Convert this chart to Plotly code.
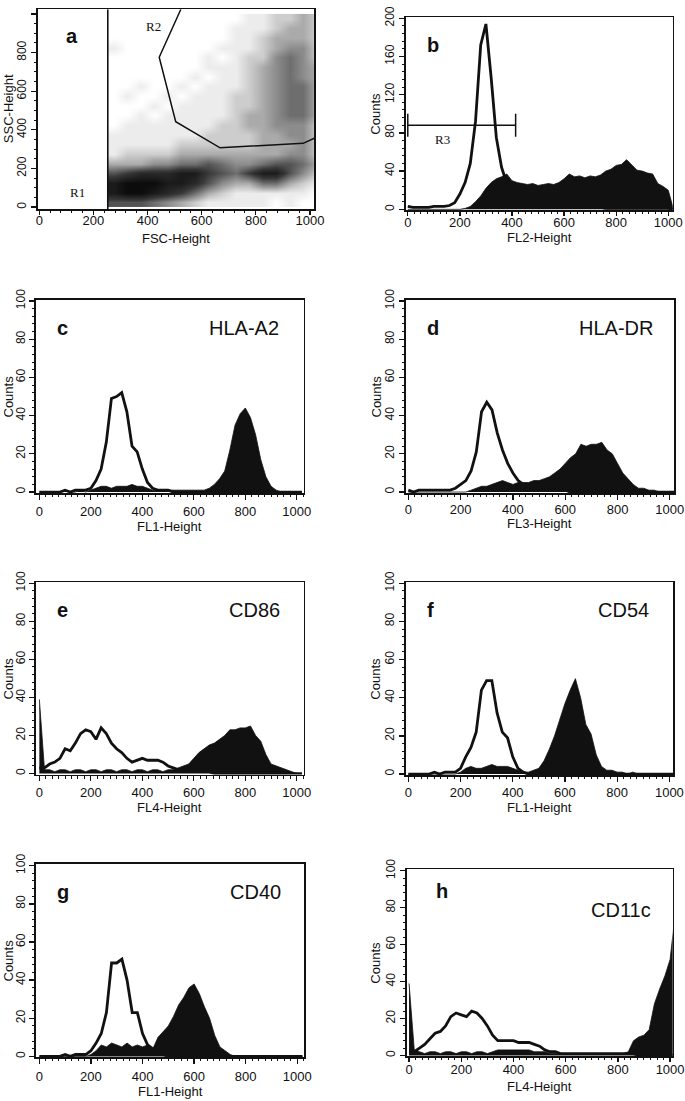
import plotly.graph_objects as go

# ---------------- data ----------------
# Histogram channel positions (FL / FSC units)
CHANNELS = list(range(0, 1021, 20))

B_OPEN = [3, 2, 2, 2, 2, 3, 3, 3, 4, 7,
          16, 28, 48, 92, 172, 194, 138, 75, 44, 27,
          18, 13, 9, 7, 6, 5, 4, 4, 3, 3,
          3, 2, 2, 2, 2, 2, 2, 2, 1, 1,
          1, 1, 1, 1, 1, 1, 1, 1, 1, 1,
          1, 0]
B_FILL = [0, 0, 0, 0, 0, 0, 0, 0, 0, 0,
          0, 1, 3, 8, 14, 22, 28, 32, 34, 37,
          30, 28, 27, 26, 27, 25, 26, 27, 26, 28,
          32, 37, 34, 35, 33, 35, 34, 36, 40, 42,
          46, 47, 52, 46, 41, 40, 38, 37, 27, 24,
          20, 0]

C_OPEN = [0, 0, 0, 0, 0, 1, 0, 1, 1, 1,
          2, 6, 12, 26, 49, 50, 52, 42, 24, 21,
          12, 5, 2, 1, 1, 1, 0, 0, 0, 0,
          0, 0, 0, 0, 0, 0, 0, 0, 0, 0,
          0, 0, 0, 0, 0, 0, 0, 0, 0, 0,
          0, 0]
C_FILL = [0, 0, 0, 0, 0, 1, 0, 0, 1, 0,
          1, 2, 3, 3, 2, 3, 3, 3, 4, 3,
          3, 2, 1, 1, 1, 1, 1, 1, 1, 1,
          1, 1, 1, 2, 4, 7, 11, 22, 35, 41,
          44, 39, 30, 17, 8, 3, 1, 0, 0, 0,
          0, 0]

D_OPEN = [1, 0, 1, 1, 1, 1, 1, 1, 1, 2,
          4, 6, 11, 21, 42, 47, 43, 31, 22, 15,
          10, 6, 4, 3, 2, 2, 2, 1, 1, 1,
          1, 0, 0, 0, 0, 0, 0, 0, 0, 0,
          0, 0, 0, 0, 0, 0, 0, 0, 0, 0,
          0, 0]
D_FILL = [0, 0, 0, 0, 0, 0, 0, 0, 0, 0,
          0, 0, 1, 2, 3, 3, 4, 5, 6, 5,
          4, 5, 5, 5, 6, 6, 7, 8, 10, 12,
          15, 18, 20, 25, 24, 25, 25, 26, 22, 20,
          15, 10, 7, 4, 2, 2, 1, 1, 0, 0,
          0, 0]

E_OPEN = [3, 3, 5, 6, 8, 13, 12, 16, 21, 23,
          22, 18, 24, 21, 16, 13, 11, 8, 6, 7,
          8, 7, 7, 7, 6, 4, 3, 2, 1, 1,
          1, 1, 1, 1, 0, 0, 0, 0, 0, 0,
          0, 0, 0, 0, 0, 0, 0, 0, 0, 0,
          0, 0]
E_FILL = [39, 2, 2, 1, 2, 2, 1, 2, 2, 1,
          2, 2, 1, 2, 2, 1, 2, 2, 1, 2,
          2, 1, 2, 2, 1, 2, 2, 3, 4, 5,
          8, 11, 13, 15, 16, 18, 20, 23, 23, 24,
          24, 25, 20, 17, 10, 5, 4, 3, 2, 1,
          0, 0]

F_OPEN = [0, 0, 0, 0, 0, 1, 0, 1, 1, 1,
          3, 9, 14, 22, 44, 49, 49, 32, 22, 19,
          9, 3, 1, 0, 0, 0, 0, 0, 0, 0,
          0, 0, 0, 0, 0, 0, 0, 0, 0, 0,
          0, 0, 0, 0, 0, 0, 0, 0, 0, 0,
          0, 0]
F_FILL = [0, 0, 0, 0, 0, 0, 0, 0, 0, 0,
          1, 3, 4, 3, 3, 4, 5, 4, 4, 4,
          3, 2, 1, 1, 2, 3, 7, 13, 20, 29,
          37, 44, 50, 40, 26, 21, 10, 4, 2, 2,
          1, 1, 0, 1, 0, 0, 0, 0, 0, 0,
          0, 0]

G_OPEN = [0, 0, 0, 0, 0, 1, 0, 1, 1, 1,
          3, 7, 12, 23, 49, 49, 51, 40, 23, 23,
          12, 6, 4, 2, 1, 0, 0, 0, 0, 0,
          0, 0, 0, 0, 0, 0, 0, 0, 0, 0,
          0, 0, 0, 0, 0, 0, 0, 0, 0, 0,
          0, 0]
G_FILL = [0, 0, 0, 0, 0, 0, 0, 0, 0, 0,
          1, 3, 6, 5, 7, 6, 5, 7, 5, 6,
          5, 6, 4, 10, 13, 16, 21, 27, 31, 36,
          38, 33, 26, 20, 11, 5, 3, 1, 0, 0,
          0, 0, 0, 0, 0, 0, 0, 0, 0, 0,
          0, 0]

H_OPEN = [2, 2, 4, 6, 9, 12, 13, 16, 21, 23,
          22, 21, 24, 23, 20, 16, 11, 8, 8, 8,
          8, 7, 7, 7, 6, 5, 3, 2, 2, 1,
          1, 1, 1, 1, 1, 1, 1, 1, 1, 1,
          1, 1, 1, 1, 0, 0, 0, 0, 0, 0,
          0, 0]
H_FILL = [39, 3, 2, 1, 2, 2, 1, 2, 2, 1,
          2, 2, 1, 2, 2, 1, 2, 3, 3, 3,
          3, 3, 3, 3, 2, 2, 2, 1, 1, 1,
          1, 1, 1, 1, 1, 1, 1, 1, 1, 1,
          1, 1, 2, 8, 10, 11, 14, 28, 36, 43,
          52, 77]

# Scatter (FSC vs SSC) density, read as darkness 0..10 on a 50x50 grid
SCAT_X = [275, 325, 375, 425, 475, 525, 575, 625, 675, 725, 775, 825, 875, 925, 975, 1025]
SCAT_Y = [25, 75, 125, 175, 225, 275, 325, 375, 425, 475,
          525, 575, 625, 675, 725, 775, 825, 875, 925, 975]
SCAT_Z = [
    [6, 6, 6, 5, 4, 3, 2, 1, 1, 1, 1, 1, 0, 1, 0, 0],
    [9, 10, 10, 9, 8, 7, 5, 3, 2, 1, 1, 1, 1, 1, 1, 0],
    [9, 10, 10, 10, 9, 9, 8, 6, 4, 3, 3, 5, 5, 3, 2, 1],
    [6, 7, 8, 8, 8, 9, 9, 7, 6, 5, 7, 9, 9, 6, 4, 2],
    [3, 3, 3, 4, 4, 5, 5, 6, 5, 4, 4, 5, 6, 6, 5, 3],
    [1, 2, 2, 2, 2, 3, 3, 3, 3, 3, 3, 3, 3, 4, 4, 2],
    [1, 1, 1, 1, 1, 2, 2, 2, 2, 2, 2, 3, 3, 3, 4, 2],
    [1, 1, 1, 1, 1, 1, 1, 2, 2, 2, 2, 3, 3, 4, 4, 2],
    [0, 1, 1, 1, 1, 1, 1, 1, 2, 2, 3, 3, 4, 4, 4, 2],
    [0, 0, 1, 0, 1, 1, 1, 1, 1, 2, 3, 3, 4, 5, 5, 3],
    [0, 0, 0, 1, 0, 1, 1, 1, 1, 2, 2, 3, 4, 5, 5, 3],
    [0, 1, 0, 0, 1, 0, 1, 1, 1, 2, 2, 3, 4, 5, 5, 3],
    [0, 0, 1, 0, 0, 1, 0, 1, 1, 1, 2, 3, 4, 5, 5, 3],
    [0, 0, 0, 0, 0, 0, 1, 0, 1, 1, 2, 3, 4, 5, 4, 3],
    [0, 0, 0, 0, 0, 0, 0, 1, 1, 1, 2, 3, 4, 5, 4, 3],
    [0, 0, 0, 0, 0, 0, 0, 1, 0, 1, 2, 2, 4, 5, 4, 2],
    [1, 0, 0, 0, 0, 0, 0, 0, 1, 1, 1, 2, 3, 4, 4, 2],
    [0, 0, 0, 0, 0, 0, 0, 0, 0, 1, 1, 2, 3, 3, 3, 2],
    [0, 0, 0, 0, 0, 0, 0, 0, 0, 1, 1, 1, 2, 3, 3, 2],
    [0, 0, 0, 0, 0, 0, 0, 0, 0, 0, 1, 1, 2, 2, 3, 2],
]

# Gates
R1_X = [253, 253]
R1_Y = [-10, 1024]
R2_X = [523, 443, 504, 668, 975, 1018]
R2_Y = [1024, 776, 442, 307, 330, 358]
R3_X = [0, 414, None, 0, 0, None, 414, 414]
R3_Y = [88, 88, None, 76, 100, None, 76, 100]

# Panel texts
LETTERS = ["a", "b", "c", "d", "e", "f", "g", "h"]
MARKERS = ["", "", "HLA-A2", "HLA-DR", "CD86", "CD54", "CD40", "CD11c"]
X_TITLES = ["FSC-Height", "FL2-Height", "FL1-Height", "FL3-Height",
            "FL4-Height", "FL1-Height", "FL1-Height", "FL4-Height"]
Y_TITLES = ["SSC-Height", "Counts", "Counts", "Counts", "Counts", "Counts", "Counts", "Counts"]

HIST_OPEN = [None, B_OPEN, C_OPEN, D_OPEN, E_OPEN, F_OPEN, G_OPEN, H_OPEN]
HIST_FILL = [None, B_FILL, C_FILL, D_FILL, E_FILL, F_FILL, G_FILL, H_FILL]

# ---------------- layout geometry (window pixels) ----------------
W, H = 685, 1101


def px_x(p):
    return p / W


def px_y(p):
    return 1 - p / H


# (left, right, top, bottom) of each plot box in window pixels
BOXES = [
    (37.7, 314.0, 9.3, 209.0),
    (405.7, 672.7, 17.3, 210.0),
    (36.0, 303.5, 300.0, 493.0),
    (405.7, 674.0, 300.0, 493.0),
    (36.0, 303.5, 582.3, 774.5),
    (405.7, 673.3, 582.3, 775.0),
    (36.0, 304.0, 864.0, 1057.0),
    (406.7, 672.7, 869.3, 1056.0),
]
X_RANGES = [[-6, 1015], [-8, 1017], [-13, 1026], [-10, 1016],
            [-13, 1026], [-10, 1015], [-13, 1026], [-9, 1010]]
Y_RANGES = [[-10, 1024], [-0.7, 201], [-0.5, 100.5], [-0.5, 100.5],
            [-0.5, 100.5], [-0.5, 100.5], [-0.3, 100.9], [-0.3, 100.8]]
X_TICKLEN = [4, 4, 5, 5, 5, 5, 5, 4]
X_LABEL_STANDOFF = [-5, -4, 1, -1, 0, 0, 2, -3]
X_TITLE_Y = [239, 238, 526, 523, 807, 807, 1091, 1086]
LETTER_POS = [(91, 887), (66, 172), (62, 86), (64, 86), (62, 86), (64, 86), (62, 86), (97, 89)]
MARKER_POS = [None, None, (940, 86), (943, 86), (941, 86), (930, 86), (944, 86), (935, 79)]

FONT = "Arial, Liberation Sans, Helvetica, sans-serif"
SERIF = "Times New Roman, Liberation Serif, serif"
INK = "#111111"

fig = go.Figure()

# scatter density panel a
fig.add_trace(go.Heatmap(
    x=SCAT_X, y=SCAT_Y, z=SCAT_Z, zmin=0, zmax=10, zsmooth="best",
    colorscale=[[0, "#ffffff"], [0.1, "#ececec"], [0.2, "#cdcdcd"], [0.3, "#aaaaaa"],
                [0.5, "#6e6e6e"], [0.7, "#383838"], [1, "#0c0c0c"]],
    showscale=False, xaxis="x", yaxis="y", hoverinfo="skip"))
fig.add_trace(go.Scatter(x=R1_X, y=R1_Y, mode="lines", line=dict(color=INK, width=1.6),
                         xaxis="x", yaxis="y", showlegend=False))
fig.add_trace(go.Scatter(x=R2_X, y=R2_Y, mode="lines", line=dict(color=INK, width=1.5),
                         xaxis="x", yaxis="y", showlegend=False))
fig.add_trace(go.Scatter(x=R3_X, y=R3_Y, mode="lines", line=dict(color=INK, width=1.5),
                         xaxis="x2", yaxis="y2", showlegend=False, connectgaps=False))

for i in range(1, 8):
    xa = "x%d" % (i + 1)
    ya = "y%d" % (i + 1)
    fig.add_trace(go.Scatter(x=CHANNELS, y=HIST_FILL[i], mode="lines",
                             line=dict(color=INK, width=0.8), fill="tozeroy", fillcolor=INK,
                             xaxis=xa, yaxis=ya, showlegend=False))
    fig.add_trace(go.Scatter(x=CHANNELS, y=HIST_OPEN[i], mode="lines",
                             line=dict(color=INK, width=2.8),
                             xaxis=xa, yaxis=ya, showlegend=False))

layout = dict(width=W, height=H, margin=dict(l=0, r=0, t=0, b=0, autoexpand=False),
              paper_bgcolor="white", plot_bgcolor="white", showlegend=False)

annotations = []
for i in range(8):
    l, r, t, b = BOXES[i]
    xdom = [px_x(l), px_x(r)]
    ydom = [px_y(b), px_y(t)]
    if i == 0:
        xminor, yminor, ydt = 40, 50, 200
    elif i == 1:
        xminor, yminor, ydt = 25, 8, 40
    else:
        xminor, yminor, ydt = 25, 4, 20
    xk = "xaxis" if i == 0 else "xaxis%d" % (i + 1)
    yk = "yaxis" if i == 0 else "yaxis%d" % (i + 1)
    anchor_x = "y" if i == 0 else "y%d" % (i + 1)
    anchor_y = "x" if i == 0 else "x%d" % (i + 1)
    layout[xk] = dict(domain=xdom, range=X_RANGES[i], anchor=anchor_x, automargin=False,
                      showline=True, linecolor=INK, linewidth=1.7, mirror=True,
                      ticks="outside", ticklen=X_TICKLEN[i], tickwidth=1.3,
                      tickcolor=INK, showgrid=False, zeroline=False,
                      tickmode="linear", tick0=0, dtick=200,
                      ticklabelstandoff=X_LABEL_STANDOFF[i],
                      tickfont=dict(family=FONT, size=13, color=INK),
                      minor=dict(dtick=xminor, tick0=0, ticks="outside", ticklen=2.5,
                                 tickwidth=1, tickcolor=INK, showgrid=False))
    layout[yk] = dict(domain=ydom, range=Y_RANGES[i], anchor=anchor_y, automargin=False,
                      showline=True, linecolor=INK, linewidth=1.7, mirror=True,
                      ticks="outside", ticklen=5, tickwidth=1.3, tickcolor=INK,
                      showgrid=False, zeroline=False,
                      tickmode="linear", tick0=0, dtick=ydt, tickangle=-90,
                      tickfont=dict(family=FONT, size=12, color=INK),
                      minor=dict(dtick=yminor, tick0=0, ticks="outside", ticklen=2.5,
                                 tickwidth=1, tickcolor=INK, showgrid=False))
    # axis titles
    annotations.append(dict(text=X_TITLES[i], x=px_x((l + r) / 2), y=px_y(X_TITLE_Y[i]),
                            xref="paper", yref="paper", showarrow=False,
                            xanchor="center", yanchor="middle",
                            font=dict(family=FONT, size=13, color=INK)))
    ytx = 8 if l < 100 else 376
    annotations.append(dict(text=Y_TITLES[i], x=px_x(ytx), y=px_y((t + b) / 2),
                            xref="paper", yref="paper", showarrow=False, textangle=-90,
                            xanchor="center", yanchor="middle",
                            font=dict(family=FONT, size=13, color=INK)))
    xr = "x" if i == 0 else "x%d" % (i + 1)
    yr = "y" if i == 0 else "y%d" % (i + 1)
    lx, ly = LETTER_POS[i]
    annotations.append(dict(text="<b>%s</b>" % LETTERS[i], x=lx, y=ly, xref=xr, yref=yr,
                            showarrow=False, xanchor="left", yanchor="middle",
                            font=dict(family=FONT, size=20, color=INK)))
    if MARKERS[i]:
        mx, my = MARKER_POS[i]
        annotations.append(dict(text=MARKERS[i], x=mx, y=my, xref=xr, yref=yr,
                                showarrow=False, xanchor="right", yanchor="middle",
                                font=dict(family=FONT, size=20, color=INK)))

# gate labels
annotations.append(dict(text="R1", x=142, y=77, xref="x", yref="y", showarrow=False,
                        font=dict(family=SERIF, size=13, color=INK)))
annotations.append(dict(text="R2", x=421, y=937, xref="x", yref="y", showarrow=False,
                        font=dict(family=SERIF, size=13, color=INK)))
annotations.append(dict(text="R3", x=135, y=73, xref="x2", yref="y2", showarrow=False,
                        font=dict(family=SERIF, size=13, color=INK)))

layout["annotations"] = annotations
fig.update_layout(**layout)
fig.write_html(
    "out.html",
    config={"displayModeBar": False, "staticPlot": True},
    post_script=("document.body.style.margin='0';document.body.style.padding='0';"
                 "document.documentElement.style.overflow='hidden';"),
)
